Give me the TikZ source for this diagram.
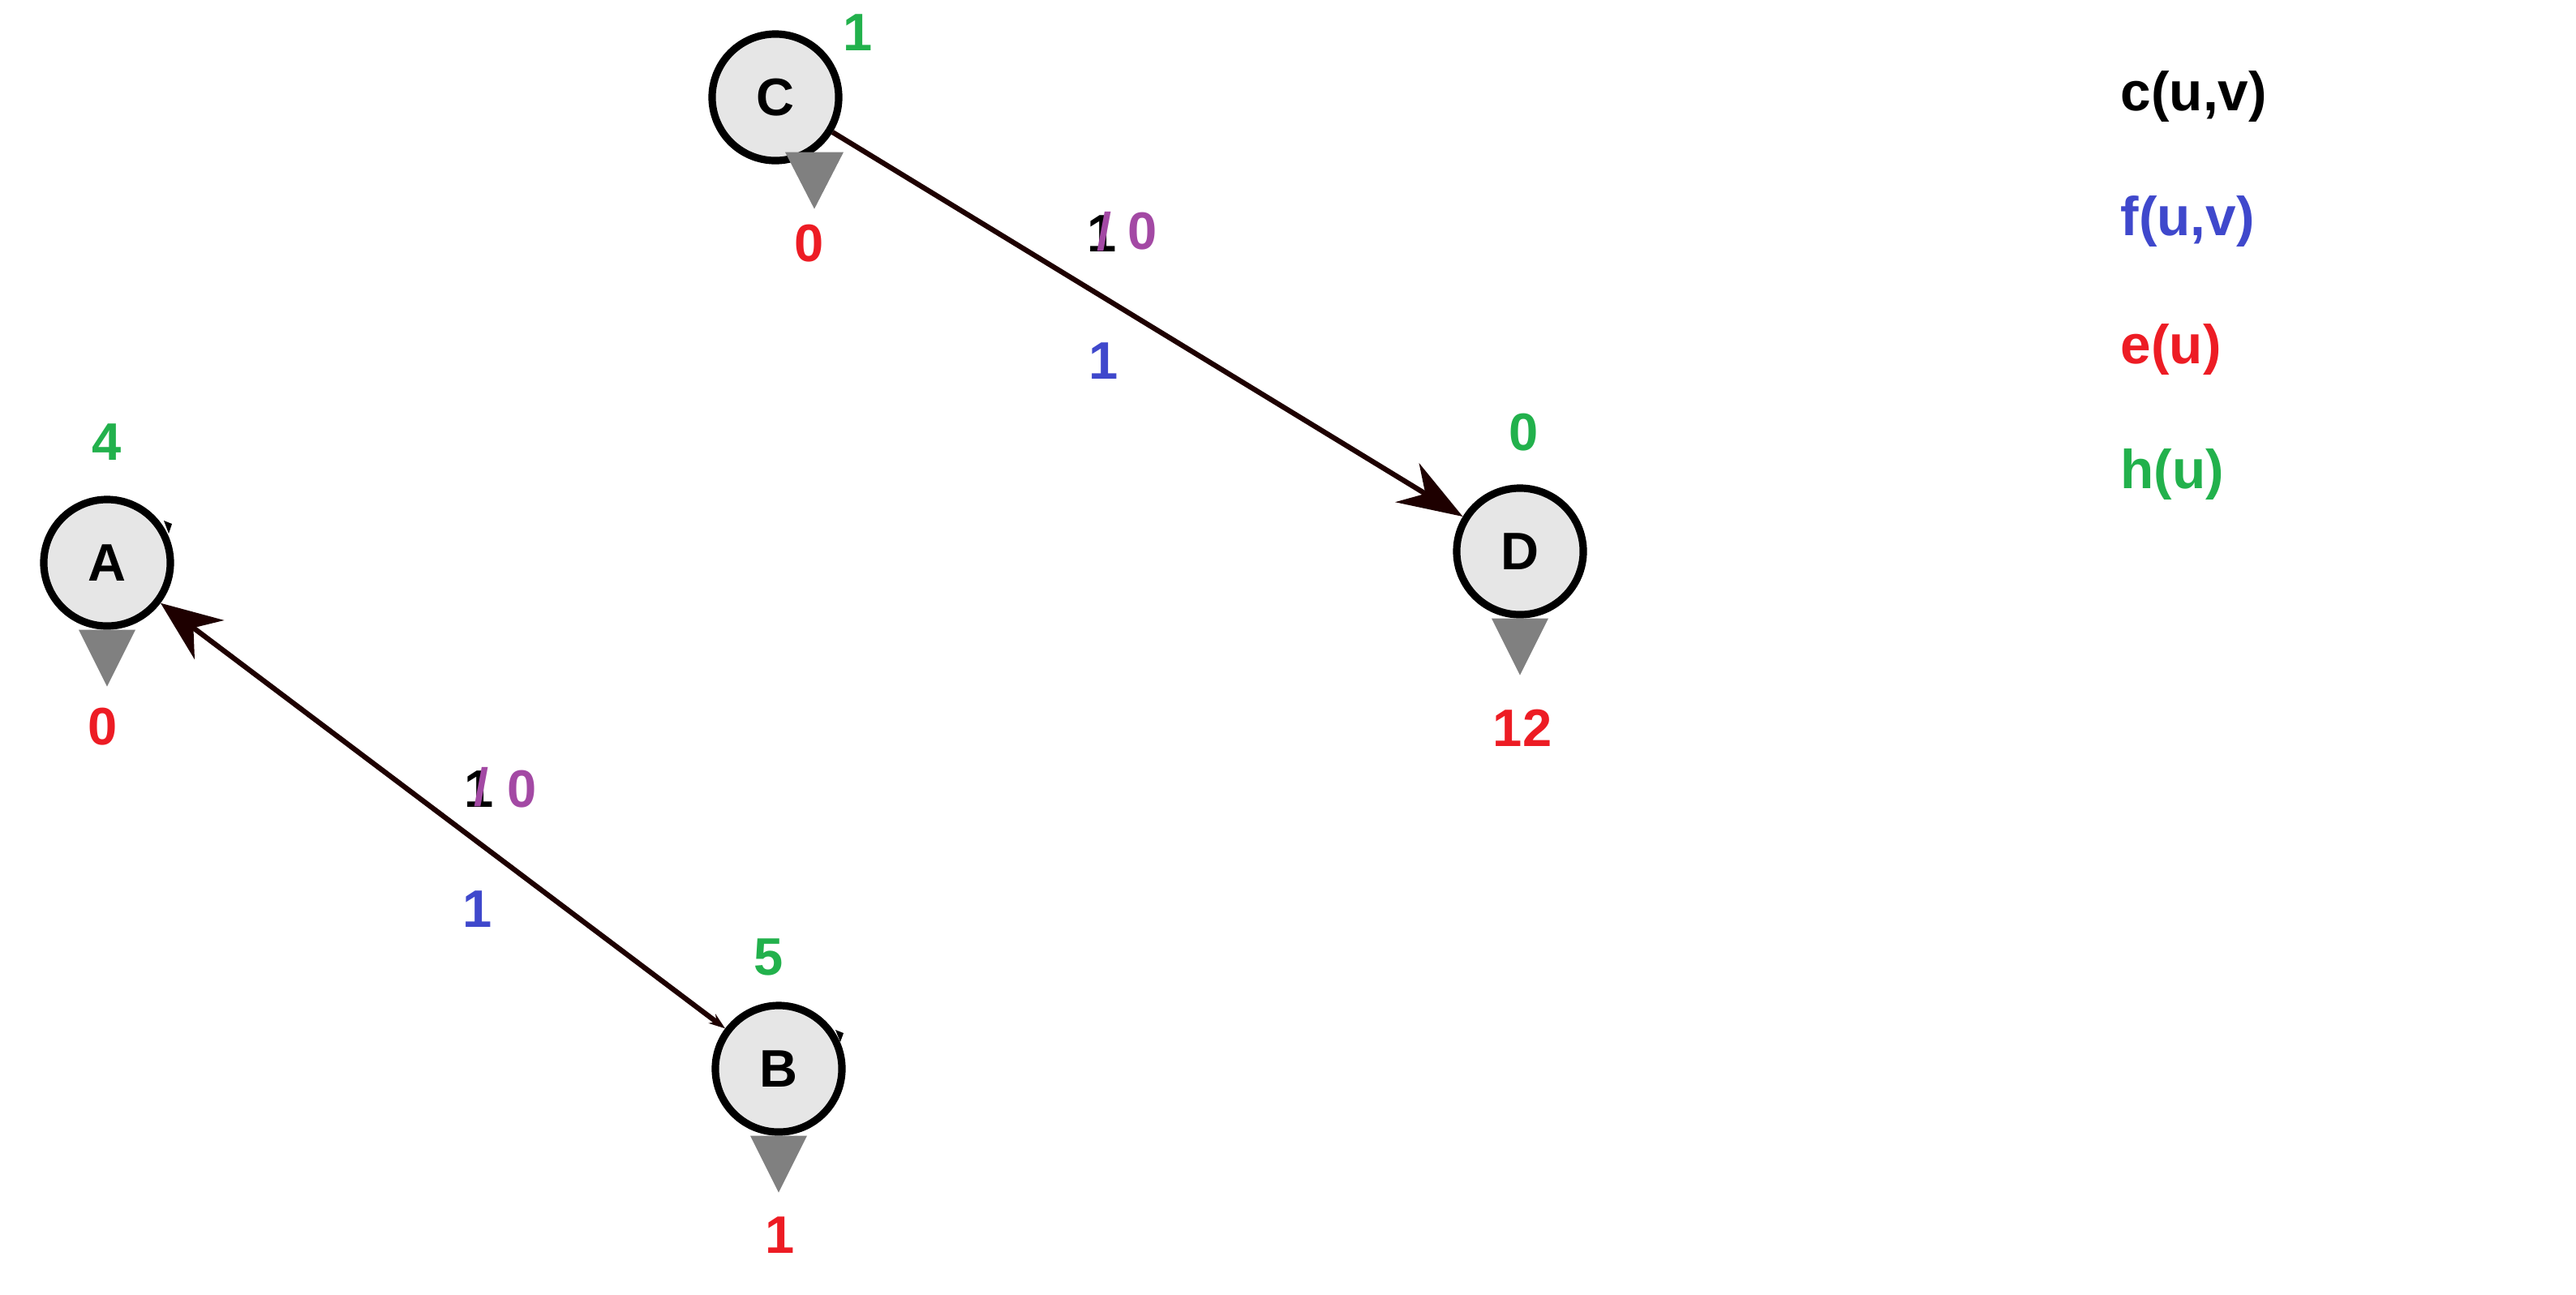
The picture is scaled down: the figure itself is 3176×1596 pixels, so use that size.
\documentclass[tikz,border=0pt]{standalone}
\usepackage{fontspec}
\setmainfont{Liberation Sans}
\usepackage{xcolor}
\usetikzlibrary{arrows.meta, positioning, calc, shapes}

\definecolor{flowcol}{RGB}{63,72,204}
\definecolor{exccol}{RGB}{237,28,36}
\definecolor{heightcol}{RGB}{34,177,76}
\definecolor{residcol}{RGB}{163,73,164}
\definecolor{vfill}{RGB}{230,230,230}
\definecolor{edgecol}{RGB}{30,0,0}
\definecolor{tricol}{RGB}{128,128,128}

\tikzset{
  vertex/.style={circle, draw=black, line width=2.6pt, fill=vfill, minimum size=1.56cm, inner sep=0pt, font=\bfseries\fontsize{18.5}{22}\selectfont},
  num/.style={anchor=base, inner sep=0pt, font=\bfseries\fontsize{18.5}{22}\selectfont},
  legend/.style={anchor=base west, inner sep=0pt, font=\bfseries\fontsize{19.2}{23}\selectfont},
  edge/.style={edgecol, line width=1.8pt},
}

\begin{document}
\begin{tikzpicture}[x=0.01cm, y=-0.01cm]
    \useasboundingbox (0,0) rectangle (3176,1596);

    % Vertices
    \node[vertex] (A) at (132,694) {A};
    \node[vertex] (B) at (960,1318) {B};
    \node[vertex] (C) at (956,120) {C};
    \node[vertex] (D) at (1874,680) {D};

    % Excess markers
    \foreach \v in {A,B,D}
        \fill[tricol] ($(\v.south)+(-35,0)$) -- ++(70,0) -- ++(-35,70) -- cycle;
    \fill[tricol] ($(C.south)+(12,-15)$) -- ++(72,0) -- ++(-36,70) -- cycle;

    % small loop tips
    \fill[black] (202,642) -- (212,646) -- (208,658) -- cycle;
    \fill[black] (1030,1270) -- (1040,1274) -- (1036,1285) -- cycle;

    % Edges
    \draw[edge, -{Stealth[length=0.8cm, width=0.56cm]}] (C) -- (D);
    \draw[edge, {Stealth[length=0.2cm, width=0.14cm]}-{Stealth[length=0.75cm, width=0.6cm]}] (B) -- (A);

    % Heights h(u)
    \node[num, heightcol] (hA) at (132,567) {4};
    \node[num, heightcol] (hB) at (948,1202) {5};
    \node[num, heightcol] (hC) at (1058,62) {1};
    \node[num, heightcol] (hD) at (1879,555) {0};

    % Excess e(u)
    \node[num, exccol] (eA) at (127,918) {0};
    \node[num, exccol] (eB) at (962,1545) {1};
    \node[num, exccol] (eC) at (998,322) {0};
    \node[num, exccol] (eD) at (1877,920) {12};

    % Capacity / flow on C -> D
    \node[num] (cCD) at (1359,310) {1};
    \node[num, residcol] (sCD) at (1362,308) {/};
    \node[num, residcol] (rCD) at (1409,307) {0};
    \node[num, flowcol] (fCD) at (1361,467) {1};

    % Capacity / flow on B -> A
    \node[num] (cBA) at (591,995) {1};
    \node[num, residcol] (sBA) at (594,993) {/};
    \node[num, residcol] (rBA) at (644,995) {0};
    \node[num, flowcol] (fBA) at (589,1143) {1};

    % Legend
    \node[legend] (lc) at (2614,136) {c(u,v)};
    \node[legend, flowcol] (lf) at (2614,290) {f(u,v)};
    \node[legend, exccol] (le) at (2614,448) {e(u)};
    \node[legend, heightcol] (lh) at (2614,602) {h(u)};

\end{tikzpicture}
\end{document}
